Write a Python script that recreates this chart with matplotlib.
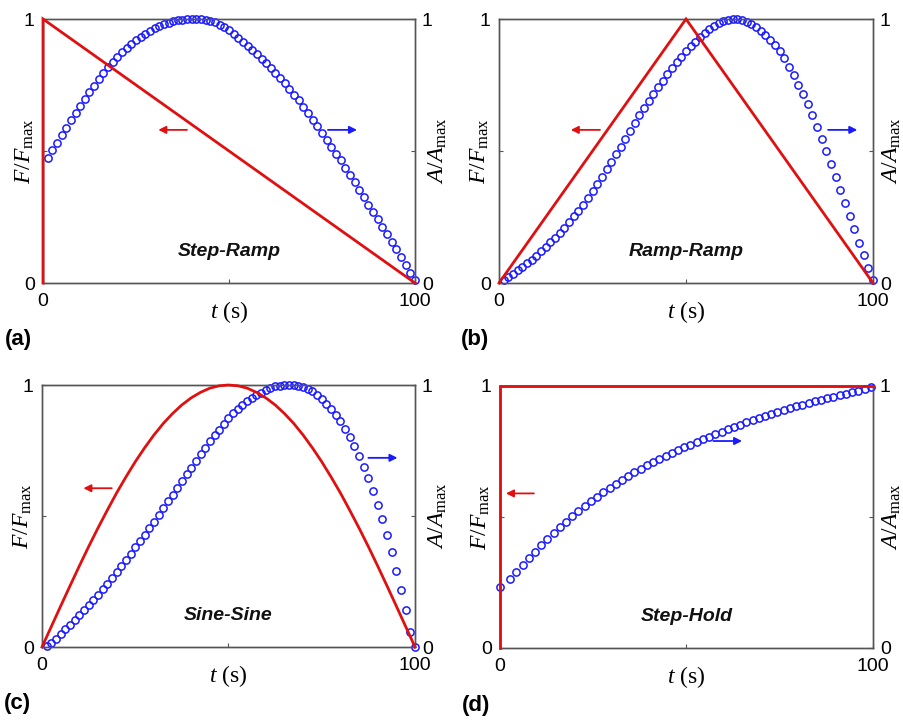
import numpy as np
import matplotlib
matplotlib.use('Agg')
import matplotlib.pyplot as plt

plt.rcParams['font.family'] = ['Liberation Sans', 'DejaVu Sans']
plt.rcParams['mathtext.fontset'] = 'custom'
plt.rcParams['mathtext.rm'] = 'Liberation Serif'
plt.rcParams['mathtext.it'] = 'Liberation Serif:italic'

RED = '#e01010'
BLUE = '#1a1aff'

# ---------------- data ----------------
# time grid of the A/Amax samples (s)
t_ab = np.arange(1, 81) * 1.25
t_d = np.concatenate([[0.0], np.linspace(2.7, 99.4, 59)])

# (a) Step-Ramp
a_red_t = [0, 0, 100]
a_red_f = [0, 1, 0]
a_blue = [0.475, 0.504, 0.532, 0.561, 0.589, 0.616, 0.644, 0.672, 0.697, 0.723,
          0.748, 0.772, 0.795, 0.818, 0.838, 0.857, 0.875, 0.891, 0.906, 0.920,
          0.933, 0.944, 0.956, 0.965, 0.973, 0.981, 0.986, 0.991, 0.995, 0.997,
          0.999, 1.000, 1.000, 0.999, 0.997, 0.993, 0.987, 0.979, 0.969, 0.957,
          0.943, 0.928, 0.913, 0.897, 0.882, 0.867, 0.849, 0.832, 0.814, 0.796,
          0.776, 0.756, 0.735, 0.714, 0.692, 0.667, 0.643, 0.619, 0.595, 0.568,
          0.542, 0.516, 0.490, 0.465, 0.437, 0.410, 0.382, 0.354, 0.325, 0.297,
          0.270, 0.242, 0.213, 0.184, 0.154, 0.127, 0.097, 0.068, 0.038, 0.010]

# (b) Ramp-Ramp
b_red_t = [0, 50, 100]
b_red_f = [0, 1, 0]
b_blue = [0.010, 0.023, 0.035, 0.048, 0.061, 0.075, 0.088, 0.104, 0.120, 0.137,
          0.154, 0.172, 0.191, 0.210, 0.230, 0.252, 0.274, 0.297, 0.322, 0.348,
          0.374, 0.402, 0.430, 0.458, 0.487, 0.516, 0.545, 0.575, 0.606, 0.635,
          0.662, 0.689, 0.716, 0.742, 0.767, 0.791, 0.814, 0.836, 0.857, 0.877,
          0.896, 0.914, 0.932, 0.948, 0.962, 0.975, 0.985, 0.992, 0.996, 0.999,
          1.000, 0.997, 0.990, 0.980, 0.968, 0.955, 0.939, 0.921, 0.900, 0.877,
          0.851, 0.820, 0.787, 0.751, 0.715, 0.677, 0.637, 0.591, 0.544, 0.500,
          0.449, 0.403, 0.354, 0.304, 0.253, 0.203, 0.153, 0.105, 0.057, 0.013]

# (c) Sine-Sine
c_red_t = [0, 2.5, 5, 7.5, 10, 12.5, 15, 17.5, 20, 22.5, 25, 27.5, 30, 32.5, 35,
           37.5, 40, 42.5, 45, 47.5, 50, 52.5, 55, 57.5, 60, 62.5, 65, 67.5, 70,
           72.5, 75, 77.5, 80, 82.5, 85, 87.5, 90, 92.5, 95, 97.5, 100]
c_red_f = [0, 0.078, 0.156, 0.233, 0.309, 0.383, 0.454, 0.522, 0.588, 0.649,
           0.707, 0.760, 0.809, 0.853, 0.891, 0.924, 0.951, 0.972, 0.988, 0.997,
           1.000, 0.997, 0.988, 0.972, 0.951, 0.924, 0.891, 0.853, 0.809, 0.760,
           0.707, 0.649, 0.588, 0.522, 0.454, 0.383, 0.309, 0.233, 0.156, 0.078, 0]
c_blue = [0.003, 0.015, 0.031, 0.048, 0.067, 0.085, 0.103, 0.122, 0.140, 0.159,
          0.179, 0.200, 0.221, 0.242, 0.265, 0.287, 0.310, 0.333, 0.356, 0.381,
          0.405, 0.429, 0.455, 0.479, 0.504, 0.531, 0.557, 0.582, 0.608, 0.634,
          0.659, 0.684, 0.710, 0.735, 0.761, 0.786, 0.808, 0.830, 0.852, 0.873,
          0.892, 0.907, 0.924, 0.938, 0.950, 0.961, 0.971, 0.980, 0.988, 0.995,
          0.998, 1.000, 1.000, 0.999, 0.997, 0.993, 0.986, 0.976, 0.963, 0.948,
          0.929, 0.907, 0.887, 0.863, 0.833, 0.803, 0.768, 0.729, 0.688, 0.644,
          0.597, 0.543, 0.487, 0.427, 0.361, 0.291, 0.218, 0.141, 0.056, 0.001]

# (d) Step-Hold
d_red_t = [0, 0, 100]
d_red_f = [0, 1, 1]
d_blue = [0.234, 0.263, 0.291, 0.317, 0.342, 0.368, 0.392, 0.416, 0.438, 0.461,
          0.482, 0.503, 0.523, 0.542, 0.560, 0.578, 0.594, 0.611, 0.626, 0.641,
          0.656, 0.670, 0.684, 0.697, 0.710, 0.722, 0.733, 0.744, 0.755, 0.766,
          0.776, 0.786, 0.796, 0.806, 0.816, 0.826, 0.835, 0.844, 0.853, 0.862,
          0.870, 0.878, 0.886, 0.894, 0.901, 0.908, 0.915, 0.922, 0.929, 0.935,
          0.941, 0.947, 0.953, 0.959, 0.965, 0.970, 0.976, 0.982, 0.988, 0.995]

names = ['Step-Ramp', 'Ramp-Ramp', 'Sine-Sine', 'Step-Hold']
letters = ['(a)', '(b)', '(c)', '(d)']

panels = [
    (a_red_t, a_red_f, t_ab, a_blue),
    (b_red_t, b_red_f, t_ab, b_blue),
    (c_red_t, c_red_f, t_ab, c_blue),
    (d_red_t, d_red_f, t_d, d_blue),
]

# arrow annotations (start, end) in data coords
red_arrows = [((38.7, 0.58), (31.0, 0.58)),
              ((27.0, 0.58), (19.2, 0.58)),
              ((18.7, 0.606), (11.1, 0.606)),
              ((9.1, 0.59), (1.6, 0.59))]
blue_arrows = [((76.6, 0.58), (84.4, 0.58)),
               ((88.0, 0.58), (95.8, 0.58)),
               ((87.5, 0.722), (95.3, 0.722)),
               ((57.2, 0.79), (64.9, 0.79))]

# ---------------- figure ----------------
W, H = 904, 721
fig = plt.figure(figsize=(W / 100, H / 100), dpi=100)

# axes boxes in pixels: left, right, top, bottom
boxes = [(43, 415, 19, 283), (499, 873, 19, 283),
         (42, 415, 385, 647), (500, 873, 386, 648)]

SPINE = '#555555'

for i, ((rt, rf, bt, bv), (l, r, tp, bt_px)) in enumerate(zip(panels, boxes)):
    ax = fig.add_axes([l / W, 1 - bt_px / H, (r - l) / W, (bt_px - tp) / H])
    ax.set_xlim(0, 100)
    ax.set_ylim(0, 1)
    ax2 = ax.twinx()
    ax2.set_ylim(0, 1)

    ax2.plot(bt, bv, 'o', mfc='none', mec=BLUE, ms=5.2, mew=1.1,
             clip_on=False, zorder=3)
    ax.plot(rt, rf, color=RED, lw=2.0, clip_on=False, zorder=4,
            solid_joinstyle='miter')
    ax.set_zorder(ax2.get_zorder() + 1)
    ax.patch.set_visible(False)

    for a_ in (ax, ax2):
        for s in a_.spines.values():
            s.set_color(SPINE)
            s.set_linewidth(1.0)

    ax.set_xticks([0, 50, 100])
    ax.set_xticklabels(['0', '', '100'])
    ax.set_yticks([0, 0.5, 1])
    ax.set_yticklabels(['0', '', '1'])
    ax2.set_yticks([0, 0.5, 1])
    ax2.set_yticklabels(['0', '', '1'])
    ax.tick_params(axis='x', direction='in', length=3, width=0.8, color=SPINE,
                   labelsize=14, pad=7)
    ax.tick_params(axis='y', direction='in', length=3, width=0.8, color=SPINE,
                   labelsize=14, pad=6)
    ax2.tick_params(axis='y', direction='in', length=3, width=0.8, color=SPINE,
                    labelsize=14, pad=5)

    ax.set_xlabel(r'$t\ \mathrm{(s)}$', fontsize=17)
    ax.xaxis.set_label_coords(0.5, -0.11)
    ax.xaxis.label.set_va('center')
    ax.set_ylabel(r'$F/F_{\mathrm{max}}$', fontsize=17)
    ax.yaxis.set_label_coords(-0.05, 0.5)
    ax.yaxis.label.set_va('center')
    ax2.set_ylabel(r'$A/A_{\mathrm{max}}$', fontsize=17)
    ax2.yaxis.set_label_coords(1.05 if l > 450 else 1.062, 0.5)
    ax2.yaxis.label.set_va('center')

    ax.text(50, 0.12, names[i], fontsize=14, fontweight='bold',
            fontstyle='italic', ha='center', va='center', color='#111111')

    (x0, y0), (x1, y1) = red_arrows[i]
    ax.annotate('', xy=(x1, y1), xytext=(x0, y0),
                arrowprops=dict(arrowstyle='-|>', color=RED, lw=1.3,
                                mutation_scale=11, shrinkA=0, shrinkB=0))
    (x0, y0), (x1, y1) = blue_arrows[i]
    ax.annotate('', xy=(x1, y1), xytext=(x0, y0),
                arrowprops=dict(arrowstyle='-|>', color=BLUE, lw=1.3,
                                mutation_scale=11, shrinkA=0, shrinkB=0))

    fig.text((l - 38) / W, 1 - (bt_px + 57) / H, letters[i], fontsize=16,
             fontweight='bold', ha='left', va='center')

fig.savefig('out.png', dpi=100)
